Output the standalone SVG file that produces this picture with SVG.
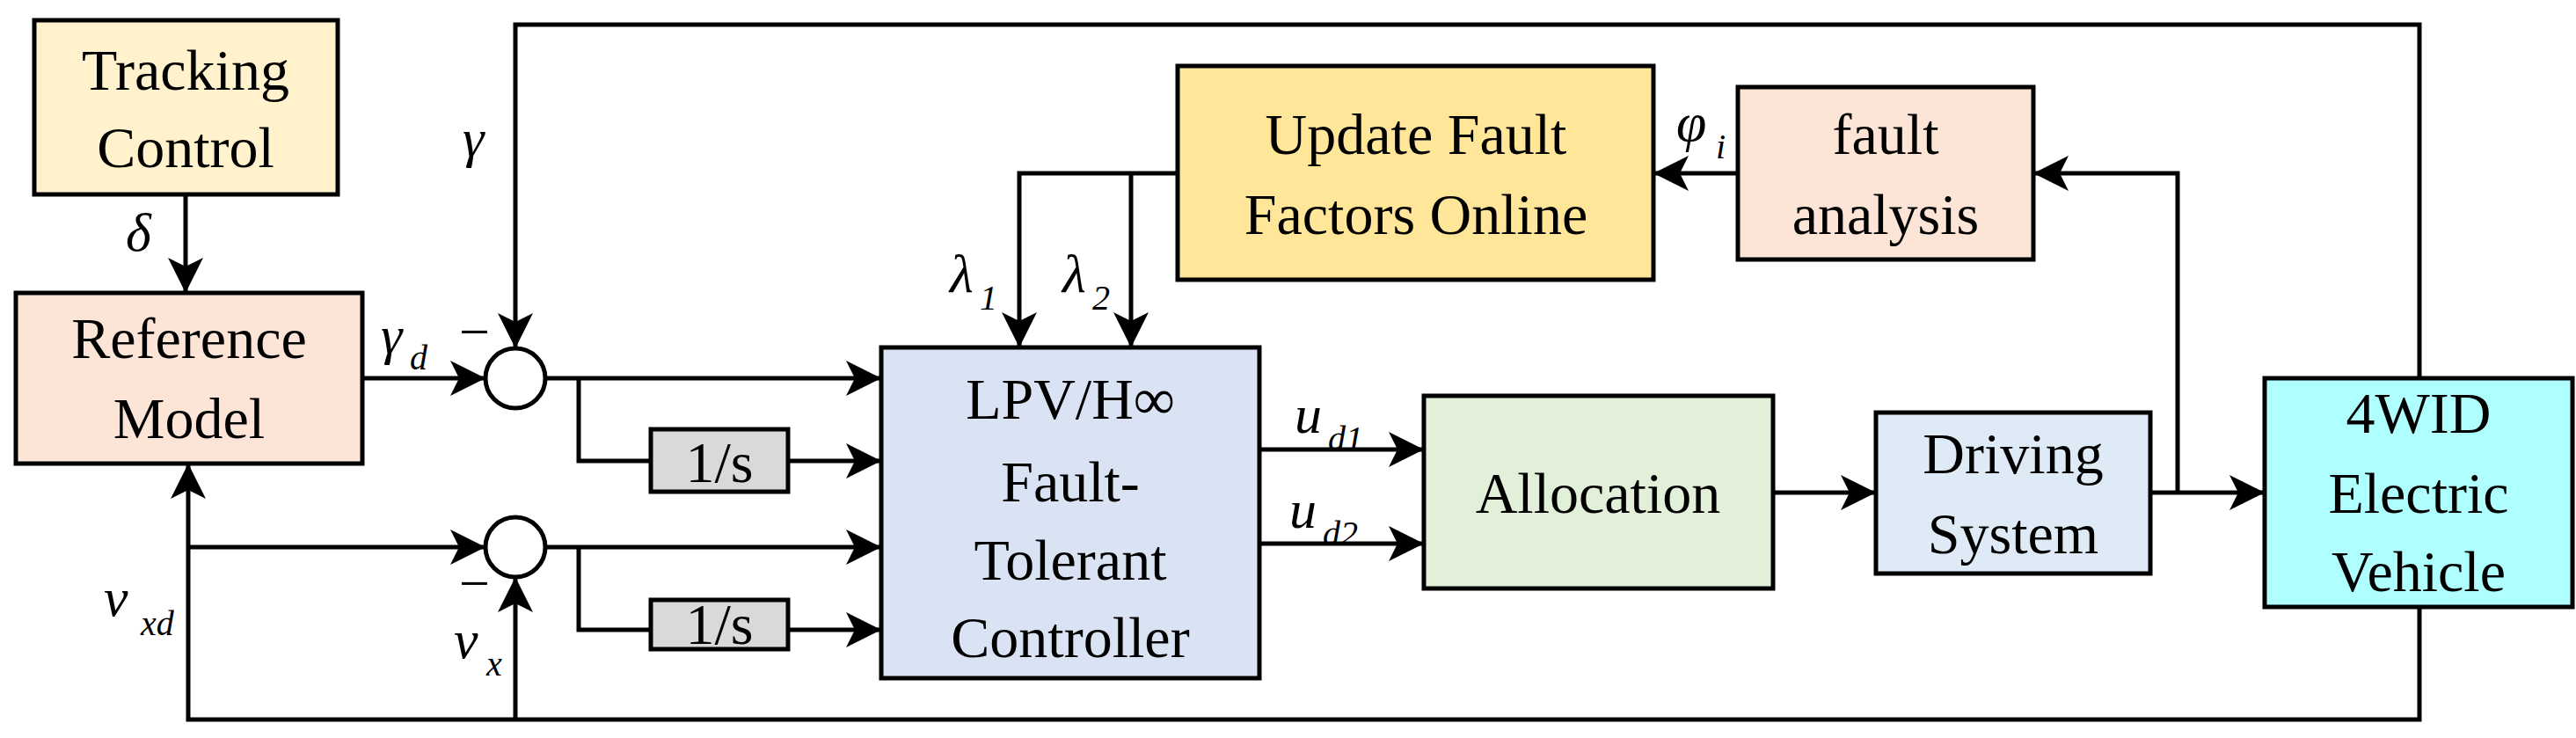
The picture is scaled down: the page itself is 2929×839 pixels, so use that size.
<svg xmlns="http://www.w3.org/2000/svg" width="2929" height="839" viewBox="0 0 2929 839">
<style>
.b{stroke:#000;stroke-width:5}
.t{font-family:"Liberation Serif",serif;font-size:66px;text-anchor:middle}
.i{font-family:"Liberation Serif",serif;font-style:italic;font-size:62px}
.s{font-family:"Liberation Serif",serif;font-style:italic;font-size:40px}
.l{fill:none;stroke:#000;stroke-width:5}
</style>
<defs>
<marker id="a" markerUnits="userSpaceOnUse" markerWidth="44" markerHeight="40" refX="40" refY="20" orient="auto">
<path d="M0,0 L40,20 L0,40 L10,20 Z" fill="#000"/>
</marker>
</defs>
<rect width="2929" height="839" fill="#fff"/>
<g id="tracking"><rect class="b" x="39" y="23" width="345" height="198" fill="#FFF2CC"/><text class="t" x="211" y="102">Tracking</text><text class="t" x="211" y="190">Control</text></g>
<g id="reference"><rect class="b" x="18" y="333" width="394" height="194" fill="#FCE4D6"/><text class="t" x="215" y="407">Reference</text><text class="t" x="215" y="498">Model</text></g>
<g id="sum1"><circle class="b" cx="586" cy="430" r="34" fill="#fff"/></g>
<g id="sum2"><circle class="b" cx="586" cy="622" r="34" fill="#fff"/></g>
<g id="int1"><rect class="b" x="740" y="488" width="156" height="71" fill="#D9D9D9"/><text class="t" x="818" y="548">1/s</text></g>
<g id="int2"><rect class="b" x="740" y="682" width="156" height="56" fill="#D9D9D9"/><text class="t" x="818" y="732">1/s</text></g>
<g id="lpv"><rect class="b" x="1002" y="395" width="430" height="376" fill="#DAE3F3"/><text class="t" x="1217" y="476">LPV/H∞</text><text class="t" x="1217" y="570">Fault-</text><text class="t" x="1217" y="659">Tolerant</text><text class="t" x="1217" y="747">Controller</text></g>
<g id="update"><rect class="b" x="1339" y="75" width="541" height="243" fill="#FFE699"/><text class="t" x="1610" y="175">Update Fault</text><text class="t" x="1610" y="266">Factors Online</text></g>
<g id="faultanalysis"><rect class="b" x="1976" y="99" width="336" height="196" fill="#FCE4D6"/><text class="t" x="2144" y="175">fault</text><text class="t" x="2144" y="266">analysis</text></g>
<g id="allocation"><rect class="b" x="1619" y="450" width="397" height="219" fill="#E2F0D9"/><text class="t" x="1817" y="583">Allocation</text></g>
<g id="driving"><rect class="b" x="2133" y="469" width="312" height="183" fill="#DEEBF7"/><text class="t" x="2289" y="538">Driving</text><text class="t" x="2289" y="629">System</text></g>
<g id="vehicle"><rect class="b" x="2575" y="430" width="350" height="260" fill="#AFFFFF"/><text class="t" x="2750" y="492">4WID</text><text class="t" x="2750" y="583">Electric</text><text class="t" x="2750" y="672">Vehicle</text></g>
<g id="connectors">
<path class="l" d="M211,221 V333" marker-end="url(#a)"/>
<path class="l" d="M412,430 H552" marker-end="url(#a)"/>
<path class="l" d="M2751,430 V28 H586 V396" marker-end="url(#a)"/>
<path class="l" d="M620,430 H1002" marker-end="url(#a)"/>
<path class="l" d="M658,430 V524 H740"/>
<path class="l" d="M896,524 H1002" marker-end="url(#a)"/>
<path class="l" d="M620,622 H1002" marker-end="url(#a)"/>
<path class="l" d="M658,622 V716 H740"/>
<path class="l" d="M896,716 H1002" marker-end="url(#a)"/>
<path class="l" d="M214,622 H552" marker-end="url(#a)"/>
<path class="l" d="M2751,690 V818 H214 V527" marker-end="url(#a)"/>
<path class="l" d="M586,818 V656" marker-end="url(#a)"/>
<path class="l" d="M1339,197 H1159 V395" marker-end="url(#a)"/>
<path class="l" d="M1286,197 V395" marker-end="url(#a)"/>
<path class="l" d="M1976,197 H1880" marker-end="url(#a)"/>
<path class="l" d="M2476,560 V197 H2312" marker-end="url(#a)"/>
<path class="l" d="M1432,511 H1619" marker-end="url(#a)"/>
<path class="l" d="M1432,618 H1619" marker-end="url(#a)"/>
<path class="l" d="M2016,560 H2133" marker-end="url(#a)"/>
<path class="l" d="M2445,560 H2575" marker-end="url(#a)"/>
</g>
<g id="labels">
<text class="i" x="526" y="178">γ</text>
<text class="i" x="143" y="285">δ</text>
<text class="i" x="433" y="402">γ</text><text class="s" x="466" y="420">d</text>
<text class="i" x="518" y="398">−</text>
<text class="i" x="518" y="684">−</text>
<text class="i" x="118" y="700">v</text><text class="s" x="160" y="722">xd</text>
<text class="i" x="516" y="748">v</text><text class="s" x="553" y="768">x</text>
<text class="i" x="1080" y="332">λ</text><text class="s" x="1114" y="352">1</text>
<text class="i" x="1208" y="332">λ</text><text class="s" x="1242" y="352">2</text>
<text class="i" x="1906" y="160">φ</text><text class="s" x="1951" y="180">i</text>
<text class="i" x="1472" y="492">u</text><text class="s" x="1510" y="512">d1</text>
<text class="i" x="1466" y="600">u</text><text class="s" x="1504" y="620">d2</text>
</g>
</svg>
